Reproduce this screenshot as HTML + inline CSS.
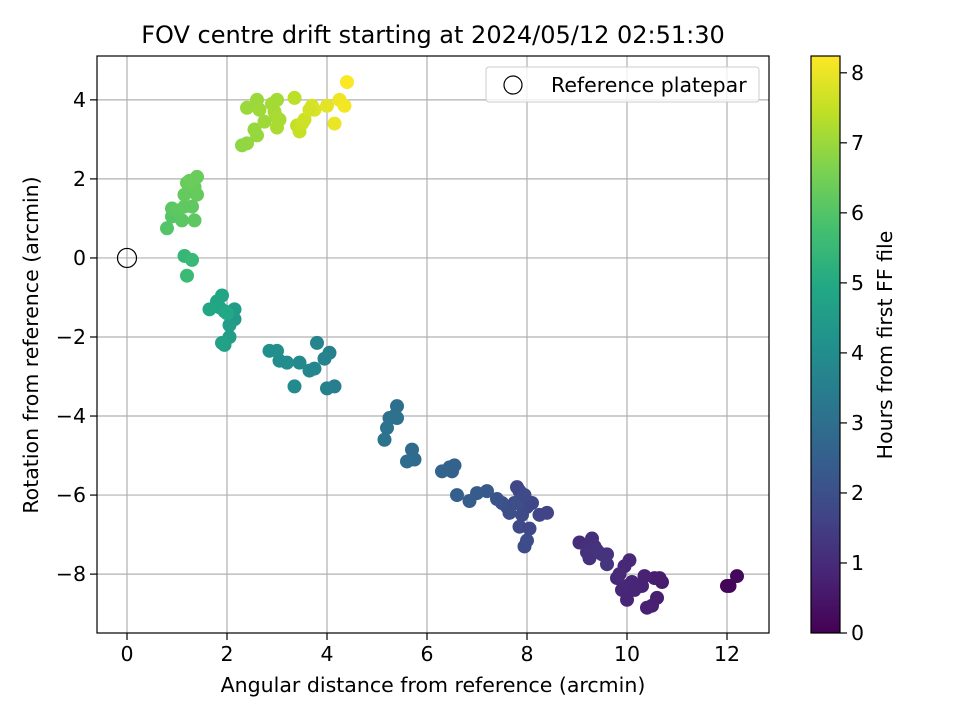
<!DOCTYPE html>
<html><head><meta charset="utf-8"><style>
body{margin:0;background:#fff}
svg text{font-family:"DejaVu Sans","Liberation Sans",sans-serif;fill:#000}
</style></head><body>
<svg id="fig" width="960" height="720" viewBox="0 0 960 720" xmlns="http://www.w3.org/2000/svg">
<defs><linearGradient id="vir" x1="0" y1="1" x2="0" y2="0"></linearGradient></defs>
<rect width="960" height="720" fill="#fff"/>
<text x="433" y="43" font-size="24" text-anchor="middle">FOV centre drift starting at 2024/05/12 02:51:30</text>
<g id="grid"></g>
<g id="pts"></g>
<rect x="97" y="56" width="672" height="577" fill="none" stroke="#000" stroke-width="1.2"/>
<g id="ticks"></g>
<text x="433" y="692" font-size="20.5" text-anchor="middle">Angular distance from reference (arcmin)</text>
<text transform="translate(38,345) rotate(-90)" font-size="20.5" text-anchor="middle">Rotation from reference (arcmin)</text>
<g>
<rect x="486" y="67" width="273" height="35" rx="3" fill="#fff" fill-opacity="0.8" stroke="#ccc"/>
<circle cx="513" cy="85" r="9" fill="none" stroke="#000" stroke-width="1.2"/>
<text x="551" y="92" font-size="20.5">Reference platepar</text>
</g>
<rect x="811" y="56" width="29" height="577" fill="url(#vir)" stroke="#000" stroke-width="1.2"/>
<g id="cbt"></g>
<text transform="translate(892,345) rotate(-90)" font-size="20.5" text-anchor="middle">Hours from first FF file</text>
</svg>
<script>
const xs=[12.0,12.05,12.2,10.7,10.65,10.55,10.6,10.5,10.4,10.3,10.35,10.1,10.0,10.05,9.95,10.15,9.9,10.0,9.8,9.85,9.05,9.2,9.3,9.35,9.25,9.5,9.6,9.6,9.2,9.4,7.8,7.85,7.75,7.6,7.65,7.9,8.0,8.1,8.25,8.4,7.85,8.05,7.95,8.0,7.8,7.95,7.5,7.4,7.2,7.0,6.85,6.6,6.55,6.45,6.5,6.3,5.75,5.6,5.7,5.4,5.35,5.4,5.25,5.2,5.15,4.15,4.0,4.05,3.95,3.8,3.75,3.65,3.45,3.35,3.2,3.05,3.0,2.85,2.15,2.15,2.05,2.05,1.95,1.9,1.95,1.9,1.8,1.85,1.65,2.0,1.15,1.3,1.2,0.8,0.9,0.9,1.1,1.35,1.0,1.15,1.3,1.15,1.4,1.2,1.35,1.4,1.25,2.3,2.4,2.55,2.6,2.4,2.6,2.65,2.75,2.9,3.0,2.95,3.0,3.05,3.0,3.35,3.4,3.45,3.5,3.55,3.7,3.75,4.0,4.15,4.25,4.35,4.4,3.65];
const ys=[-8.3,-8.3,-8.05,-8.2,-8.1,-8.1,-8.6,-8.8,-8.85,-8.3,-8.05,-8.2,-8.3,-7.65,-7.8,-8.4,-8.4,-8.65,-8.1,-8.0,-7.2,-7.3,-7.1,-7.3,-7.6,-7.5,-7.5,-7.75,-7.45,-7.4,-5.8,-5.9,-6.2,-6.3,-6.45,-6.5,-6.3,-6.2,-6.5,-6.45,-6.8,-6.85,-7.3,-7.15,-6.2,-6.0,-6.2,-6.1,-5.9,-5.95,-6.15,-6.0,-5.25,-5.3,-5.4,-5.4,-5.1,-5.15,-4.85,-3.75,-4.0,-4.05,-4.05,-4.3,-4.6,-3.25,-3.3,-2.4,-2.55,-2.15,-2.8,-2.85,-2.65,-3.25,-2.65,-2.6,-2.35,-2.35,-1.55,-1.3,-1.7,-2.0,-2.2,-2.15,-1.35,-0.95,-1.1,-1.25,-1.3,-1.4,0.05,-0.05,-0.45,0.75,1.05,1.25,0.95,0.95,1.2,1.3,1.3,1.6,1.6,1.9,1.8,2.05,1.95,2.85,2.9,3.25,3.1,3.8,4.0,3.75,3.45,3.9,4.0,3.7,3.55,3.5,3.3,4.05,3.35,3.2,3.4,3.5,3.85,3.75,3.85,3.4,4.0,3.85,4.45,3.75];
const hours=[0.05,0.1,0.2,0.6,0.62,0.65,0.7,0.72,0.75,0.8,0.78,0.85,0.9,0.95,0.92,0.88,0.9,0.86,0.95,0.98,1.05,1.1,1.12,1.15,1.15,1.2,1.22,1.25,1.18,1.2,1.7,1.75,1.8,1.9,1.95,1.85,1.8,1.75,1.7,1.65,1.85,1.8,1.9,1.88,1.95,1.9,2.05,2.1,2.3,2.35,2.4,2.5,2.6,2.62,2.6,2.65,2.85,2.9,2.88,3.0,3.02,3.05,3.08,3.1,3.12,3.5,3.55,3.6,3.65,3.7,3.75,3.8,3.85,3.9,3.95,4.0,4.05,4.1,4.45,4.5,4.55,4.6,4.65,4.7,4.75,4.8,4.85,4.85,4.9,4.95,5.45,5.5,5.55,6.0,6.05,6.1,6.1,6.15,6.15,6.2,6.2,6.25,6.25,6.3,6.3,6.35,6.35,6.85,6.9,6.95,6.95,7.0,7.0,7.05,7.05,7.1,7.1,7.12,7.15,7.18,7.2,7.4,7.5,7.55,7.6,7.65,7.75,7.8,7.9,8.0,8.05,8.1,8.2,7.7];
const xTicks=[0,2,4,6,8,10,12];
const yTicks=[-8,-6,-4,-2,0,2,4];
const cTicks=[0,1,2,3,4,5,6,7,8];
const NS='http://www.w3.org/2000/svg';
const L=97,R=769,T=56,B=633,X0=-0.6,X1=12.84,Y0=-9.49,Y1=5.11,CMAX=8.24;
const sx=v=>L+(v-X0)/(X1-X0)*(R-L);
const sy=v=>B-(v-Y0)/(Y1-Y0)*(B-T);
const sc=v=>B-v/CMAX*(B-T);
const V=[[0,68,1,84],[0.1,72,36,117],[0.2,65,68,135],[0.3,53,95,141],[0.4,42,120,142],[0.5,33,145,140],[0.6,34,168,132],[0.7,68,191,112],[0.8,122,209,81],[0.9,189,223,38],[1,253,231,37]];
function vir(t){t=Math.max(0,Math.min(1,t));for(let i=1;i<V.length;i++){if(t<=V[i][0]){const a=V[i-1],b=V[i],f=(t-a[0])/(b[0]-a[0]);return 'rgb('+[1,2,3].map(k=>Math.round(a[k]+f*(b[k]-a[k]))).join(',')+')';}}}
function mk(tag,at,par){const e=document.createElementNS(NS,tag);for(const k in at)e.setAttribute(k,at[k]);par.appendChild(e);return e;}
const g=document.getElementById('vir');
V.forEach(s=>mk('stop',{offset:s[0]*8.24/CMAX,'stop-color':vir(s[0])},g));
const grid=document.getElementById('grid'),ticks=document.getElementById('ticks');
xTicks.forEach(v=>{const x=sx(v);
const l=mk('line',{x1:x,x2:x,y1:T,y2:B,stroke:'#b0b0b0','stroke-width':1.2},grid);


mk('line',{x1:x,x2:x,y1:B,y2:B+7,stroke:'#000','stroke-width':1.2},ticks);
const t=mk('text',{x:x,y:B+28,'font-size':20.5,'text-anchor':'middle'},ticks);t.textContent=v;

});
yTicks.forEach(v=>{const y=sy(v);
const l=mk('line',{x1:L,x2:R,y1:y,y2:y,stroke:'#b0b0b0','stroke-width':1.2},grid);


mk('line',{x1:L-7,x2:L,y1:y,y2:y,stroke:'#000','stroke-width':1.2},ticks);
const t=mk('text',{x:L-11,y:y+7,'font-size':20.5,'text-anchor':'end'},ticks);t.textContent=(v<0?'\u2212'+(-v):v);

});
const cb=document.getElementById('cbt');
cTicks.forEach(v=>{const y=sc(v);
mk('line',{x1:840,x2:847,y1:y,y2:y,stroke:'#000','stroke-width':1.2},cb);
const t=mk('text',{x:851,y:y+7,'font-size':20.5},cb);t.textContent=v;

});
const pts=document.getElementById('pts');
hours.forEach((h,i)=>{const c=mk('circle',{cx:sx(xs[i]),cy:sy(ys[i]),r:7,fill:vir(hours[i]/CMAX)},pts);

});
const ref=mk('circle',{cx:sx(0),cy:sy(0),r:9.5,fill:'none',stroke:'#000','stroke-width':1.2},pts);


</script>
</body></html>
